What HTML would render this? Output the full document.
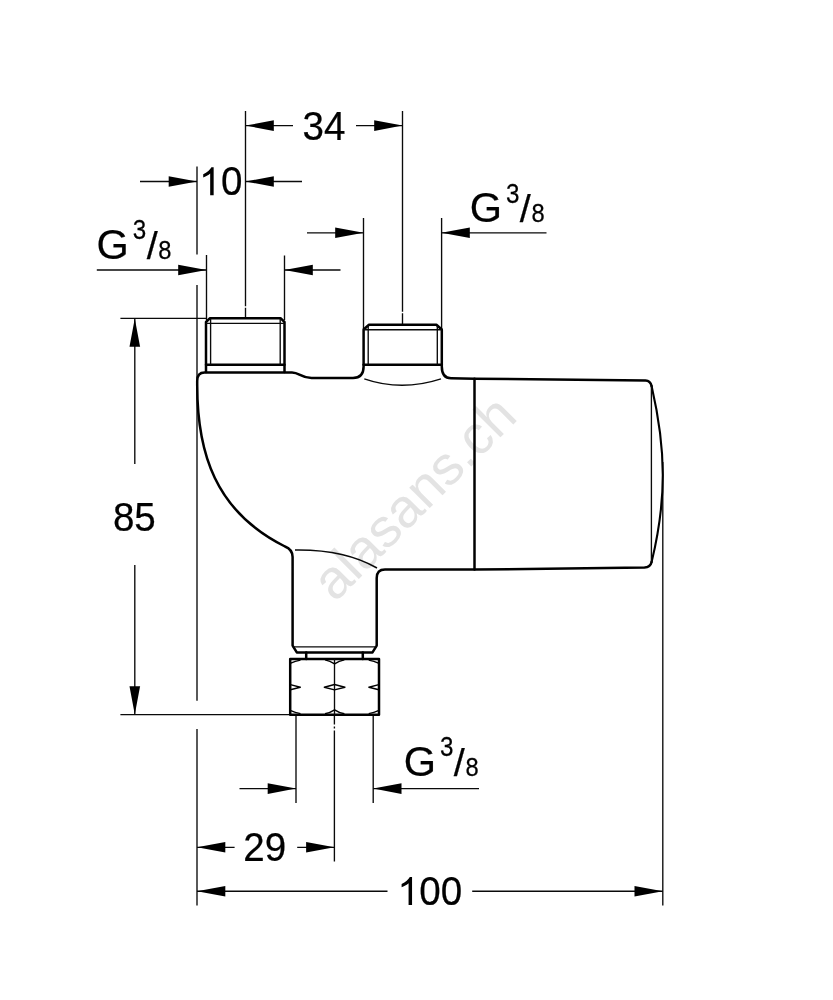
<!DOCTYPE html>
<html><head><meta charset="utf-8">
<style>
html,body{margin:0;padding:0;background:#fff;}
body{width:833px;height:1000px;overflow:hidden;}
svg{display:block;}
.tx{opacity:0.999;}
text{font-family:"Liberation Sans",sans-serif;fill:#000;stroke:#000;stroke-width:0.25px;}
.t{stroke:#0a0a0a;stroke-width:1.35;fill:none;}
.k{stroke:#000;stroke-width:2.5;fill:none;stroke-linejoin:round;stroke-linecap:round;}
.k2{stroke:#000;stroke-width:2.1;fill:none;stroke-linejoin:round;stroke-linecap:round;}
.m{stroke:#000;stroke-width:1.4;fill:none;stroke-linejoin:round;}
.a{fill:#000;stroke:none;}
.d{font-size:41.5px;}
.g{font-size:42.8px;}
.sl{font-size:39.5px;}
.s{font-size:25.8px;}
</style></head><body>
<svg width="833" height="1000" viewBox="0 0 833 1000">
<rect width="833" height="1000" fill="#fff"/>
<text id="wm" x="0" y="0" transform="translate(334.9,602.9) rotate(-45)" style="font-size:54.5px;fill:#e3e3e3;stroke:none;">alasans.ch</text>

<g class="t">
<path d="M245.5 111V306.2M245.5 307.7V318"/>
<path d="M197 166.5V254.5M197 285V700.8M197 729V905.5"/>
<path d="M206.5 255V320M284.5 255.5V320"/>
<path d="M363.5 218V329M441.6 218V329"/>
<path d="M402.5 111V311.8M402.5 313.3V324"/>
<path d="M245.5 125.6H293M356 125.6H402.5"/>
<path d="M140 181.5H197M245.5 181.5H302"/>
<path d="M96.8 270.0H206.5M284.5 270.0H340.5"/>
<path d="M307 232.8H363.5M441.5 232.8H546.5"/>
<path d="M120.4 318.4H206"/>
<path d="M134.8 318.4V464M134.8 565V714.6"/>
<path d="M120.4 714.6H290"/>
<path d="M296 714.6V803M373.2 714.6V803M334.4 714.6V724.4M334.4 726.4V728.4M334.4 730.4V861.4"/>
<path d="M239.5 788.6H296M373.2 788.6H479"/>
<path d="M197 847.3H234.6M297.2 847.3H334.4"/>
<path d="M197 891.2H387.5M472.2 891.2H662.8"/>
<path d="M662.8 462V905.5"/>
</g>
<g class="a">
<path d="M245.5 125.6l28.3 -5.3v10.6z"/>
<path d="M402.5 125.6l-28.3 -5.3v10.6z"/>
<path d="M197 181.5l-28.3 -5.3v10.6z"/>
<path d="M245.5 181.5l28.3 -5.3v10.6z"/>
<path d="M206.5 270.0l-28.3 -5.3v10.6z"/>
<path d="M284.5 270.0l28.3 -5.3v10.6z"/>
<path d="M363.5 232.8l-28.3 -5.3v10.6z"/>
<path d="M441.5 232.8l28.3 -5.3v10.6z"/>
<path d="M134.8 318.4l-5.3 28.3h10.6z"/>
<path d="M134.8 714.6l-5.3 -28.3h10.6z"/>
<path d="M296 788.6l-28.3 -5.3v10.6z"/>
<path d="M373.2 788.6l28.3 -5.3v10.6z"/>
<path d="M197 847.3l28.3 -5.3v10.6z"/>
<path d="M334.4 847.3l-28.3 -5.3v10.6z"/>
<path d="M197 891.2l28.3 -5.3v10.6z"/>
<path d="M662.8 891.2l-28.3 -5.3v10.6z"/>
</g>

<g class="tx">
<text id="t34" class="d" transform="translate(302.60,140.2) scale(0.93,1)">34</text>
<path class="a" transform="translate(198.9,195.3) scale(0.01934,-0.01905)" d="M763 0H583V1147Q518 1085 412.5 1023Q307 961 223 930V1104Q374 1175 487 1276Q600 1377 647 1472H763Z"/><text id="t10" class="d" transform="translate(220.92,195.3) scale(0.93,1)">0</text>
<text id="t85" class="d" transform="translate(112.90,530.9) scale(0.93,1)">85</text>
<text id="t29" class="d" transform="translate(243.30,861.2) scale(0.93,1)">29</text>
<path class="a" transform="translate(397.3,905.0) scale(0.01934,-0.01905)" d="M763 0H583V1147Q518 1085 412.5 1023Q307 961 223 930V1104Q374 1175 487 1276Q600 1377 647 1472H763Z"/><text id="t100" class="d" transform="translate(419.32,905.0) scale(0.93,1)">00</text>

<g id="g1"><text class="g" transform="translate(96.6,258.6) scale(0.97,1)">G</text><text class="s" style="font-size:27.2px" transform="translate(132.8,239.3) scale(0.89,1)">3</text><text class="sl" x="146.7" y="258.8">/</text><text class="s" transform="translate(158.3,259.0) scale(0.92,1)">8</text></g>
<g id="g2"><text class="g" transform="translate(469.7,222.0) scale(0.97,1)">G</text><text class="s" style="font-size:27.2px" transform="translate(505.9,202.7) scale(0.89,1)">3</text><text class="sl" x="519.8" y="222.2">/</text><text class="s" transform="translate(531.4,222.4) scale(0.92,1)">8</text></g>
<g id="g3"><text class="g" transform="translate(403.7,775.5) scale(0.97,1)">G</text><text class="s" style="font-size:27.2px" transform="translate(439.9,756.2) scale(0.89,1)">3</text><text class="sl" x="453.8" y="775.7">/</text><text class="s" transform="translate(465.4,775.9) scale(0.92,1)">8</text></g>
</g>

<g class="k">
<path d="M197.2 385V381Q197.2 372.5 204.6 372.5H292C299.5 372.5 301 378 311.5 378H353Q363.6 378 363.6 366.5V329.5L369 324.7H436.4L441.8 329.5V366.5Q441.8 378.2 451 378.3L474.5 378.7L645.5 380.6Q650.3 380.8 651.6 386M651.6 562Q650.3 567.3 644.5 567.5L474.5 569.6L385 569.4Q376.7 569.4 376.7 578V645.6L372.5 652.4H296.8L292.6 645.6V557Q292.6 549.5 285 546.5C215 511.5 197.2 452.7 197.2 385"/>
<path d="M474.5 378.7V569.6"/>
<path d="M206 372V322L210 318.2H280.5L284.5 322V372"/>
<path d="M206 364.8H284.5"/>
<path d="M363.6 364.8H441.8"/>
<path d="M306.2 652.5V658.9M362.8 652.5V658.9"/>
<path d="M290.2 658.9H379V714.7H290.2Z"/>
</g>
<path class="k2" d="M651.6 386C659.4 420 662.8 450 662.8 475C662.8 500 659.4 530 651.6 562"/>
<g class="t">
<path d="M206 323.4H284.5M210.6 319V364.8M280.2 319V364.8"/>
<path d="M363.6 329.7H441.8M368.2 325.5V364.8M437.3 325.5V364.8"/>
<path d="M364.3 378.8Q401.5 391.7 441 378.8"/>
<path d="M295 550C320 549.6 350 552.5 377 568" style="stroke-width:1.5"/>
<path d="M292.6 646.9H376.7"/>
<path d="M651.4 386V562"/>
<path d="M334.5 658.9V714.7"/>
</g>
<g class="m">
<path d="M324.3 687.2L334.5 684.5L344.9 687.2L334.5 689.9Z"/>
<path d="M290.4 684.6L300.3 687.2L290.4 689.8"/>
<path d="M378.8 684.6L368.9 687.2L378.8 689.8"/>
<path d="M290.8 663.1Q295 661 300.5 660.1M325 659.9Q330 660.8 334.6 663.8Q339 660.8 344.4 659.9M368.7 660.1Q374.2 661 378.4 663.1"/>
<path d="M290.8 710.6Q295 712.7 300.5 713.6M325 713.8Q330 712.9 334.6 709.9Q339 712.9 344.4 713.8M368.7 713.6Q374.2 712.7 378.4 710.6"/>
</g>
</svg>
</body></html>
